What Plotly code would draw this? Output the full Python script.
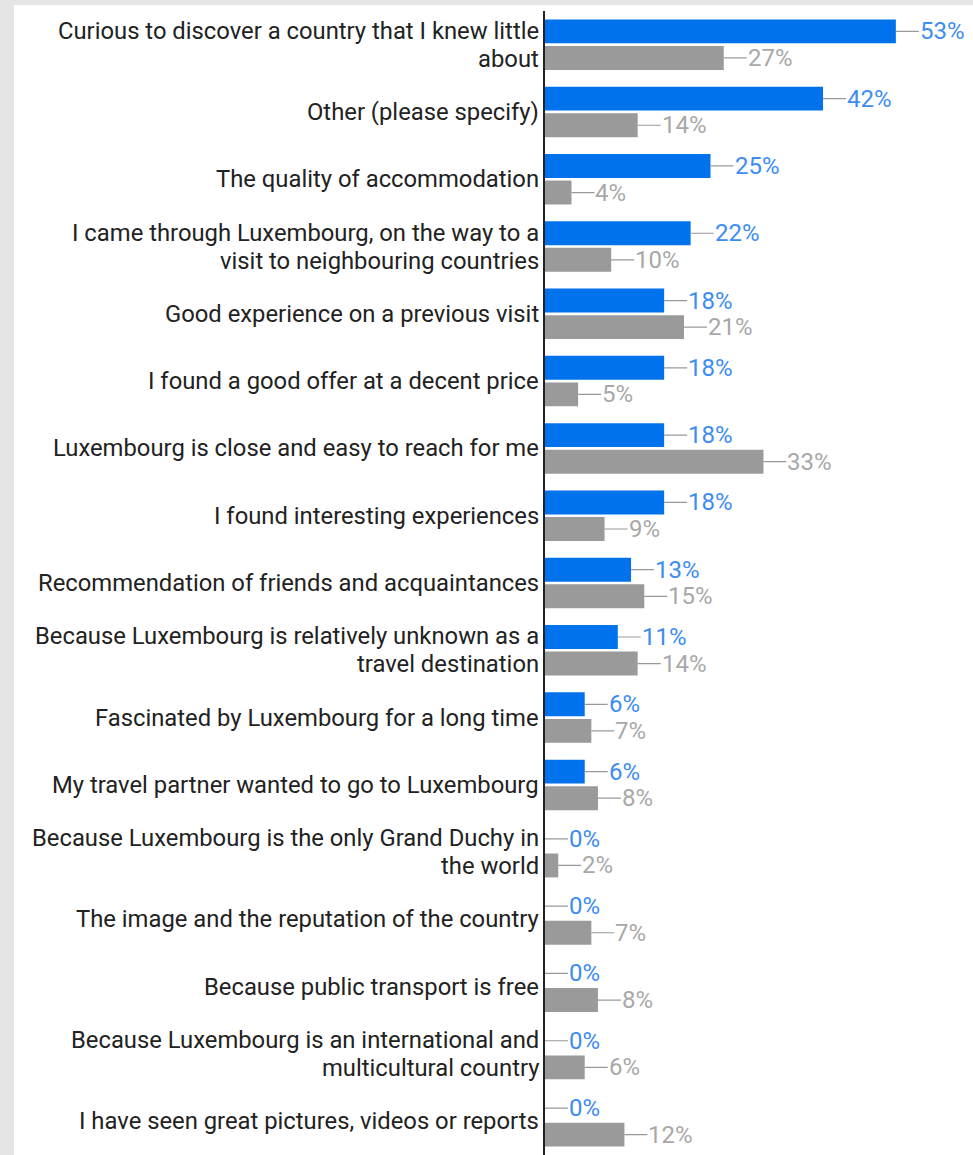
import plotly.graph_objects as go

# Survey reasons (line breaks marked with \n), and shares per group in percent
labels = [
    "Curious to discover a country that I knew little\nabout",
    "Other (please specify)",
    "The quality of accommodation",
    "I came through Luxembourg, on the way to a\nvisit to neighbouring countries",
    "Good experience on a previous visit",
    "I found a good offer at a decent price",
    "Luxembourg is close and easy to reach for me",
    "I found interesting experiences",
    "Recommendation of friends and acquaintances",
    "Because Luxembourg is relatively unknown as a\ntravel destination",
    "Fascinated by Luxembourg for a long time",
    "My travel partner wanted to go to Luxembourg",
    "Because Luxembourg is the only Grand Duchy in\nthe world",
    "The image and the reputation of the country",
    "Because public transport is free",
    "Because Luxembourg is an international and\nmulticultural country",
    "I have seen great pictures, videos or reports",
]
blue_values = [53, 42, 25, 22, 18, 18, 18, 18, 13, 11, 6, 6, 0, 0, 0, 0, 0]
gray_values = [27, 14, 4, 10, 21, 5, 33, 9, 15, 14, 7, 8, 2, 7, 8, 6, 12]

cats = [l.replace("\n", " ") for l in labels]

W, H = 973, 1155
ML, MT, MR, MB = 545, 11, 0, 0
plot_w = W - ML - MR
plot_h = H - MT - MB
px_per_pct = 6.62
x_max = plot_w / px_per_pct

BLUE = "#0073ec"
BLUE_TXT = "#3d8cf2"
GRAY = "#9a9a9a"
GRAY_TXT = "#a8a8a8"
LEADER = "#999999"
BG = "#e5e5e5"
FONT = "Roboto"

fig = go.Figure()
fig.add_trace(go.Bar(y=cats, x=blue_values, orientation="h", marker_color=BLUE,
                     marker_line_width=0, name="blue", hoverinfo="skip"))
fig.add_trace(go.Bar(y=cats, x=gray_values, orientation="h", marker_color=GRAY,
                     marker_line_width=0, name="gray", hoverinfo="skip"))

bargap = 0.21
slot_px = plot_h / len(cats)
half_bar = slot_px * (1 - bargap) / 4  # offset of each bar centre from the category centre

annotations = []
# Category labels, right-aligned against the axis
for lab, cat in zip(labels, cats):
    lines = lab.split("\n")
    shifts = [0] if len(lines) == 1 else [14, -14]
    for line, sh in zip(lines, shifts):
        annotations.append(dict(
            x=0, xref="paper", y=cat, yref="y", text=line, showarrow=False,
            xanchor="right", yanchor="middle", xshift=-4, yshift=sh,
            font=dict(family=FONT, size=23.8, color="#222222"),
        ))

# Value labels with short leader lines
for vals, shift, col in ((blue_values, half_bar, BLUE_TXT), (gray_values, -half_bar, GRAY_TXT)):
    for v, cat in zip(vals, cats):
        annotations.append(dict(
            x=v, xref="x", y=cat, yref="y", text=f"{v}%", showarrow=True,
            arrowhead=0, arrowwidth=1.2, arrowcolor=LEADER, ax=23, ay=0,
            xanchor="left", yanchor="middle", yshift=shift, borderpad=0, standoff=0,
            font=dict(family=FONT, size=24, color=col),
        ))

# Grey frame strips on the left and top edges
shapes = [
    dict(type="rect", xref="paper", yref="paper", layer="below",
         x0=(0 - ML) / plot_w, x1=(14 - ML) / plot_w,
         y0=-0.01, y1=(H - MB) / plot_h + 0.02,
         fillcolor=BG, line_width=0),
    dict(type="rect", xref="paper", yref="paper", layer="below",
         x0=(0 - ML) / plot_w, x1=1.01,
         y0=(H - MB - 5) / plot_h, y1=(H - MB) / plot_h + 0.02,
         fillcolor=BG, line_width=0),
]

fig.update_layout(
    width=W, height=H,
    margin=dict(l=ML, r=MR, t=MT, b=MB, pad=0),
    paper_bgcolor="white", plot_bgcolor="rgba(0,0,0,0)",
    barmode="group", bargap=bargap, bargroupgap=0.1,
    showlegend=False,
    annotations=annotations, shapes=shapes,
    xaxis=dict(range=[0, x_max], visible=False, fixedrange=True),
    yaxis=dict(autorange="reversed", showticklabels=False, ticks="",
               showgrid=False, zeroline=False, showline=True,
               linecolor="#222222", linewidth=2, fixedrange=True),
)

fig.write_html("out.html", config={"displayModeBar": False})
